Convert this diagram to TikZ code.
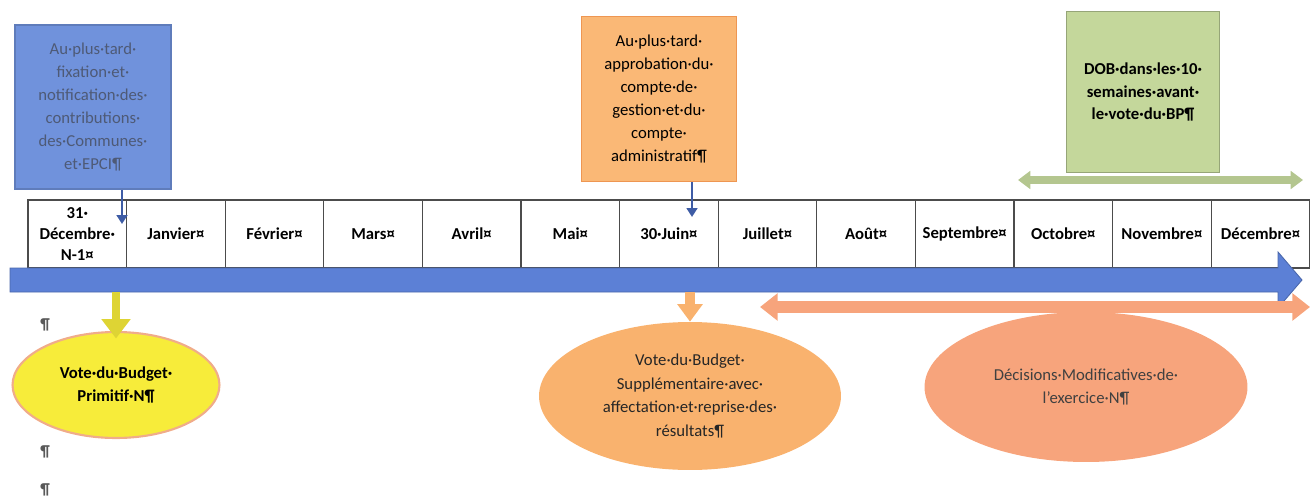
\documentclass[tikz,border=0pt]{standalone}
\usepackage{fontspec}
\setmainfont{Carlito}
\usetikzlibrary{arrows.meta, positioning, shapes.geometric, calc}

\definecolor{boxblue}{RGB}{112,146,220}
\definecolor{fixtext}{RGB}{78,90,118}
\definecolor{linkblue}{RGB}{62,92,165}
\definecolor{axisblue}{RGB}{92,128,214}
\definecolor{boxorange}{RGB}{250,184,118}
\definecolor{edgeorange}{RGB}{238,150,82}
\definecolor{boxgreen}{RGB}{196,215,155}
\definecolor{edgegreen}{RGB}{150,165,120}
\definecolor{voteyellow}{RGB}{247,236,58}
\definecolor{edgepink}{RGB}{240,172,138}
\definecolor{ellorange}{RGB}{249,178,110}
\definecolor{salmon}{RGB}{247,164,124}

\tikzset{
  notebox/.style={draw, line width=0.9pt, minimum width=3.12cm, minimum height=3.28cm,
    align=center, inner sep=2pt, font=\fontsize{9.5}{13}\selectfont},
  monthcell/.style={draw=black!70, line width=0.6pt, minimum width=1.972cm,
    minimum height=1.36cm, align=center, inner sep=1pt,
    font=\fontsize{9.5}{12}\selectfont\bfseries},
  voteell/.style={ellipse, align=center, inner sep=0pt,
    font=\fontsize{9.5}{13.5}\selectfont},
  linkarrow/.style={linkblue, line width=1.6pt, -{Triangle[width=6pt,length=5pt]}},
  pilcrow/.style={font=\small\bfseries, text=black!65}
}

\begin{document}
\begin{tikzpicture}[x=0.02cm, y=-0.02cm]
  \useasboundingbox (0,0) rectangle (1311,497);

  % Month cells
  \foreach \m [count=\i from 0] in {{31·\\Décembre·\\N-1¤}, Janvier¤, Février¤, Mars¤,
      Avril¤, Mai¤, 30·Juin¤, Juillet¤, Août¤, Septembre¤, Octobre¤, Novembre¤, Décembre¤}
    \node[monthcell] (m\i) at (77.3+98.6*\i, 234) {\m};

  % Time axis
  \draw[axisblue!80!black, fill=axisblue, line width=0.5pt]
    (10,268) -- (1278,268) -- (1278,252) -- (1302,280) -- (1278,308)
    -- (1278,292) -- (10,292) -- cycle;

  % Upper boxes
  \node[notebox, fill=boxblue, draw=boxblue!85!black, text=fixtext] (fixbox) at (93,107)
    {Au·plus·tard·\\fixation·et·\\notification·des·\\contributions·\\des·Communes·\\et·EPCI¶};
  \node[notebox, fill=boxorange, draw=edgeorange, minimum width=3.1cm, minimum height=3.3cm] (cgbox) at (659,99)
    {Au·plus·tard·\\approbation·du·\\compte·de·\\gestion·et·du·\\compte·\\administratif¶};
  \node[notebox, fill=boxgreen, draw=edgegreen, minimum width=3.06cm, minimum height=3.22cm,
    font=\fontsize{9.5}{13}\selectfont\bfseries] (dobbox) at (1143,92)
    {DOB·dans·les·10·\\semaines·avant·\\le·vote·du·BP¶};

  % Pointers to the dates
  \coordinate (decpin) at (122,224);
  \coordinate (junpin) at (692,217);
  \draw[linkarrow] (fixbox.south -| decpin) -- (decpin);
  \draw[linkarrow] (cgbox.south -| junpin) -- (junpin);

  % DOB period
  \coordinate (dobfrom) at (1018,180);
  \coordinate (dobto) at (1303,180);
  \draw[boxgreen!92!black, line width=4pt,
    {Triangle[width=10pt,length=7pt]}-{Triangle[width=10pt,length=7pt]}] (dobfrom) -- (dobto);

  % Lower ellipses
  \node[voteell, fill=voteyellow, draw=edgepink, line width=1.2pt, minimum width=4.14cm,
    minimum height=2.12cm, font=\fontsize{9.5}{13.5}\selectfont\bfseries] (bpell) at (116,385)
    {Vote·du·Budget·\\Primitif·N¶};
  \node[voteell, fill=ellorange, minimum width=6.04cm, minimum height=2.96cm,
    text=black!85] (bsell) at (690,396)
    {Vote·du·Budget·\\Supplémentaire·avec·\\affectation·et·reprise·des·\\résultats¶};
  \node[voteell, fill=salmon, minimum width=6.46cm, minimum height=3cm,
    text=black!75] (dmell) at (1086,387)
    {Décisions·Modificatives·de·\\l'exercice·N¶};

  % Block arrows to the votes
  \coordinate (bpfrom) at (116,292);
  \coordinate (bsfrom) at (690,292);
  \draw[voteyellow!90!black, line width=5pt, -{Triangle[width=16pt,length=11pt]}]
    (bpfrom) -- ([yshift=-0.15cm]bpell.north);
  \draw[ellorange, line width=5.5pt, -{Triangle[width=14pt,length=10pt]}]
    (bsfrom) -- (bsell.north);

  % DM period
  \coordinate (dmfrom) at (760,307);
  \coordinate (dmto) at (1310,307);
  \draw[salmon, line width=7pt,
    {Triangle[width=15pt,length=10pt]}-{Triangle[width=15pt,length=10pt]}] (dmfrom) -- (dmto);

  % Empty paragraphs
  \node[pilcrow] (p1) at (45,325) {¶};
  \node[pilcrow] (p2) at (45,452) {¶};
  \node[pilcrow] (p3) at (45,490) {¶};
\end{tikzpicture}
\end{document}
